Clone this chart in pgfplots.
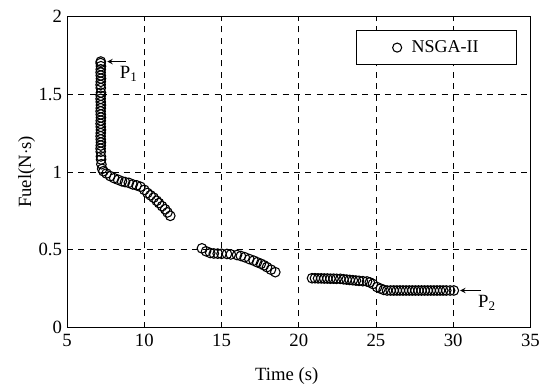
\documentclass[border=0pt]{standalone}
\usepackage{fontspec}
\setmainfont{Liberation Serif}
\usepackage{pgfplots}
\pgfplotsset{compat=1.18}
\begin{document}
\fontsize{14}{17}\selectfont
\begin{tikzpicture}
\begin{axis}[
  scale only axis,
  width=347pt, height=233pt,
  xmin=5, xmax=35, ymin=0, ymax=2,
  xtick={5,10,...,35}, ytick={0,0.5,1,1.5,2},
  /pgf/number format/assume math mode=true,
  ticklabel style={font=\fontsize{14}{17}\selectfont},
  label style={font=\fontsize{14}{17}\selectfont},
  xlabel={Time (s)}, ylabel={Fuel(N$\cdot$s)},
  xlabel style={yshift=-6pt, xshift=-9pt},
  ylabel style={yshift=-7pt},
  yticklabel style={xshift=1pt},
  grid=major,
  major grid style={black, line width=0.7pt, dash pattern=on 4.5pt off 4pt},
  axis line style={black, line width=0.9pt},
  tick style={draw=none},
  legend style={at={(0.97,0.955)}, anchor=north east, draw=black, line width=0.7pt,
    font=\fontsize{13.5}{16}\selectfont, inner xsep=26pt, inner ysep=5pt},
  legend image code/.code={\path[draw=none] (-0.15cm,0) -- (0.12cm,0); \draw[black, line width=0.8pt] (0.0cm,0) circle (3.4pt);},
  legend cell align=left,
]
\addplot[only marks, mark=o, mark size=3.6pt, mark options={line width=0.8pt, black}] coordinates {
(7.18,1.71)(7.17,1.70)(7.19,1.68)(7.18,1.66)(7.17,1.64)(7.18,1.62)(7.19,1.60)(7.18,1.58)(7.17,1.56)(7.18,1.54)
(7.19,1.51)(7.18,1.49)(7.17,1.47)(7.18,1.45)(7.19,1.43)(7.18,1.41)(7.17,1.39)(7.18,1.37)(7.19,1.35)(7.18,1.33)
(7.17,1.31)(7.18,1.29)(7.19,1.27)(7.18,1.25)(7.17,1.23)(7.18,1.21)(7.19,1.19)(7.18,1.17)(7.17,1.15)(7.18,1.13)
(7.19,1.10)(7.20,1.08)(7.22,1.05)(7.27,1.02)
(7.35,1.005)(7.55,0.99)(7.8,0.973)(8.05,0.96)(8.3,0.95)(8.55,0.94)(8.75,0.935)(9.0,0.93)(9.25,0.92)(9.5,0.914)
(9.75,0.905)(10.0,0.885)(10.2,0.865)(10.4,0.85)(10.6,0.835)(10.8,0.815)(10.95,0.80)(11.15,0.78)(11.35,0.76)(11.5,0.74)(11.68,0.718)
(13.73,0.509)(14.0,0.49)(14.27,0.479)(14.5,0.476)(14.75,0.475)(15.0,0.474)(15.35,0.473)(15.6,0.47)(16.0,0.466)(16.25,0.46)
(16.5,0.452)(16.8,0.44)(17.08,0.43)(17.3,0.42)(17.55,0.41)(17.75,0.40)(17.94,0.388)(18.2,0.372)(18.48,0.356)
(20.86,0.317)(21.05,0.317)(21.25,0.316)(21.45,0.316)(21.65,0.315)(21.85,0.315)(22.05,0.314)(22.25,0.314)(22.45,0.313)(22.69,0.313)
(22.9,0.31)(23.1,0.308)(23.3,0.306)(23.5,0.304)(23.7,0.302)(23.9,0.30)(24.15,0.298)(24.42,0.296)(24.6,0.29)(24.8,0.28)
(25.07,0.26)(25.3,0.25)(25.5,0.242)(25.72,0.238)(25.95,0.238)(26.15,0.238)(26.35,0.238)(26.55,0.238)(26.75,0.238)(26.95,0.238)
(27.15,0.238)(27.35,0.238)(27.55,0.238)(27.75,0.238)(27.95,0.238)(28.15,0.238)(28.35,0.238)(28.55,0.238)(28.75,0.238)(28.95,0.238)
(29.15,0.238)(29.35,0.238)(29.55,0.238)(29.8,0.238)(30.04,0.238)
};
\addlegendentry{\hspace{5pt}NSGA-II}
\draw[-stealth, line width=0.8pt] (axis cs:8.8,1.71) -- (axis cs:7.6,1.71);
\node[anchor=north west, inner sep=0pt] at (axis cs:8.4,1.68) {P\textsubscript{1}};
\draw[-stealth, line width=0.8pt] (axis cs:31.8,0.238) -- (axis cs:30.45,0.238);
\node[anchor=north west, inner sep=0pt] at (axis cs:31.6,0.21) {P\textsubscript{2}};
\end{axis}
\path (current bounding box.south west) ++(-9pt,0);
\path (current bounding box.north west) ++(0,3pt);
\end{tikzpicture}
\end{document}
